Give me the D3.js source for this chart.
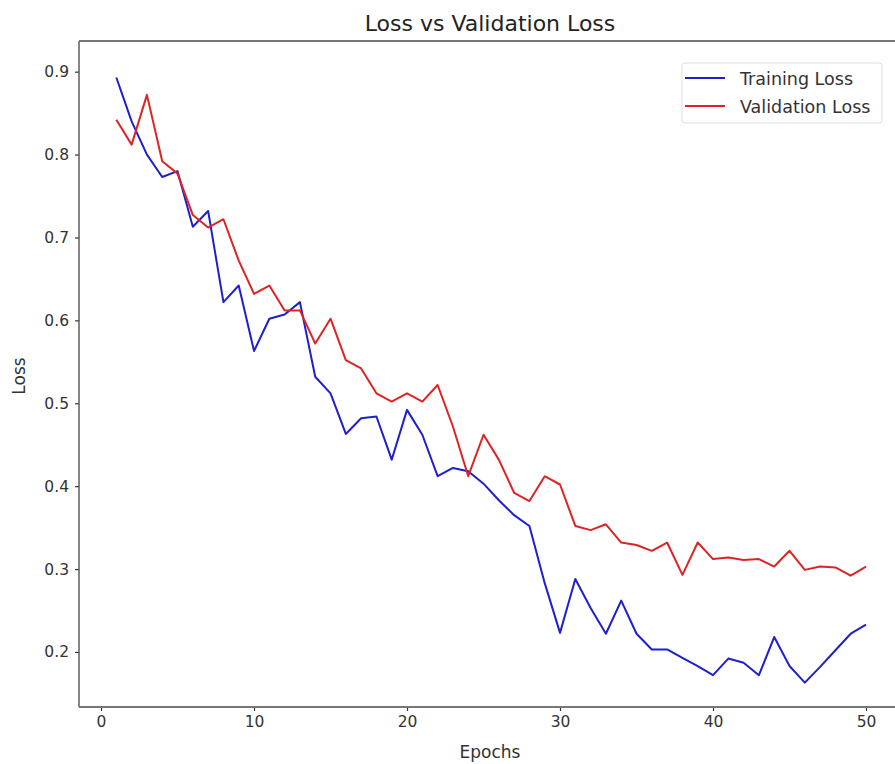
<!DOCTYPE html>
<html>
<head>
<meta charset="utf-8">
<script src="https://cdn.jsdelivr.net/npm/d3@7"></script>
<style>
  body { margin: 0; background: #fff; }
  text { font-family: "DejaVu Sans", sans-serif; }
</style>
</head>
<body>
<div id="chart"></div>
<script>
// data
var epochs = d3.range(1, 51);
var trainingLoss = [0.893, 0.84, 0.80, 0.773, 0.78, 0.713, 0.732, 0.622, 0.642, 0.563,
  0.602, 0.607, 0.622, 0.532, 0.512, 0.463, 0.482, 0.484, 0.432, 0.492,
  0.462, 0.412, 0.422, 0.418, 0.403, 0.383, 0.365, 0.352, 0.283, 0.223,
  0.288, 0.253, 0.222, 0.262, 0.222, 0.203, 0.203, 0.193, 0.183, 0.172,
  0.192, 0.187, 0.172, 0.218, 0.183, 0.163, 0.182, 0.202, 0.222, 0.233];
var validationLoss = [0.842, 0.812, 0.872, 0.792, 0.777, 0.727, 0.712, 0.722, 0.672, 0.632,
  0.642, 0.612, 0.612, 0.572, 0.602, 0.552, 0.542, 0.512, 0.502, 0.512,
  0.502, 0.522, 0.472, 0.412, 0.462, 0.432, 0.392, 0.382, 0.412, 0.402,
  0.352, 0.347, 0.354, 0.332, 0.329, 0.322, 0.332, 0.293, 0.332, 0.312,
  0.314, 0.311, 0.312, 0.303, 0.322, 0.299, 0.303, 0.302, 0.292, 0.303];
var xTicks = [0, 10, 20, 30, 40, 50];
var yTicks = [0.2, 0.3, 0.4, 0.5, 0.6, 0.7, 0.8, 0.9];
var seriesNames = ["Training Loss", "Validation Loss"];
var seriesColors = ["#1f1fcc", "#dd2424"];

var W = 895, H = 764;
var margin = { top: 41, right: 0, bottom: 57, left: 79 };
var width = W - margin.left - margin.right,
  height = H - margin.top - margin.bottom;

var svg = d3.select("#chart").append("svg")
  .attr("width", W).attr("height", H);
var g = svg.append("g")
  .attr("transform", "translate(" + margin.left + "," + margin.top + ")");

// x: -1.44 .. 52.45 (right edge cut off by the picture)
var x = d3.scaleLinear().domain([-1.44, 52.45]).range([0, 903.5 - margin.left]);
var y = d3.scaleLinear().domain([0.1336, 0.937]).range([height, 0]);

// axes
var xAxis = g.append("g")
  .attr("transform", "translate(0," + height + ")")
  .call(d3.axisBottom(x).tickValues(xTicks).tickSize(4).tickPadding(5).tickFormat(d3.format("d")));
var yAxis = g.append("g")
  .call(d3.axisLeft(y).tickValues(yTicks).tickSize(4).tickPadding(6).tickFormat(d3.format(".1f")));

[xAxis, yAxis].forEach(function (a) {
  a.select(".domain").remove();
  a.selectAll(".tick line").style("stroke", "#333").style("stroke-width", 1.2);
  a.selectAll(".tick text").style("fill", "#333").style("font-size", "15.5px")
    .style("font-family", "DejaVu Sans, sans-serif");
});

// spines
g.append("line").attr("x1", 0).attr("x2", 0).attr("y1", 0).attr("y2", height)
  .style("stroke", "#444").style("stroke-width", 1.3);
g.append("line").attr("x1", 0).attr("x2", width).attr("y1", height).attr("y2", height)
  .style("stroke", "#777").style("stroke-width", 2);
g.append("line").attr("x1", 0).attr("x2", width).attr("y1", 0).attr("y2", 0)
  .style("stroke", "#777").style("stroke-width", 2);

// lines
var line = d3.line()
  .x(function (d, i) { return x(epochs[i]); })
  .y(function (d) { return y(d); });

[trainingLoss, validationLoss].forEach(function (s, k) {
  g.append("path")
    .datum(s)
    .attr("fill", "none")
    .attr("stroke", seriesColors[k])
    .attr("stroke-width", 2)
    .attr("stroke-linejoin", "round")
    .attr("d", line);
});

// title and labels
svg.append("text")
  .attr("x", 490).attr("y", 31)
  .attr("text-anchor", "middle")
  .style("font-size", "22px").style("fill", "#222")
  .text("Loss vs Validation Loss");

svg.append("text")
  .attr("x", 490).attr("y", 758)
  .attr("text-anchor", "middle")
  .style("font-size", "17px").style("fill", "#333")
  .text("Epochs");

svg.append("text")
  .attr("transform", "translate(25,376) rotate(-90)")
  .attr("text-anchor", "middle")
  .style("font-size", "17px").style("fill", "#333")
  .text("Loss");

// legend
var legend = svg.append("g").attr("transform", "translate(682,63)");
legend.append("rect")
  .attr("width", 200).attr("height", 60).attr("rx", 3)
  .style("fill", "#fff").style("stroke", "#ddd");
seriesNames.forEach(function (name, i) {
  var ly = 15 + i * 28;
  legend.append("line")
    .attr("x1", 3).attr("x2", 43).attr("y1", ly).attr("y2", ly)
    .style("stroke", seriesColors[i]).style("stroke-width", 2);
  legend.append("text")
    .attr("x", 58).attr("y", ly + 7)
    .style("font-size", "17.5px").style("fill", "#333")
    .text(name);
});
</script>
</body>
</html>
